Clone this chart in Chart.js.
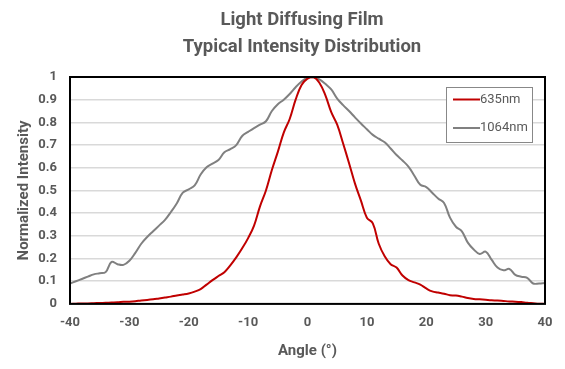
<!DOCTYPE html>
<html>
<head>
<meta charset="utf-8">
<script src="https://cdn.jsdelivr.net/npm/chart.js@4/dist/chart.umd.min.js"></script>
<style>
  html, body { margin: 0; padding: 0; background: #ffffff; }
  #wrap { width: 565px; height: 369px; }
</style>
</head>
<body>
<div id="wrap"><canvas id="c" width="565" height="369"></canvas></div>
<script>
// ---- Data ----
const angles = [
  -40,-39,-38,-37,-36,-35,-34,-33,-32,-31,-30,-29,-28,-27,-26,-25,-24,-23,-22,-21,
  -20,-19,-18,-17,-16,-15,-14,-13,-12,-11,-10,-9,-8,-7,-6,-5,-4,-3,-2,-1,
  0,1,2,3,4,5,6,7,8,9,10,11,12,13,14,15,16,17,18,19,
  20,21,22,23,24,25,26,27,28,29,30,31,32,33,34,35,36,37,38,39,40
];
const intensity635 = [
  0,0.001,0.002,0.002,0.003,0.004,0.005,0.006,0.007,0.009,0.01,0.012,0.015,0.017,0.02,0.024,0.028,0.032,0.037,0.041,
  0.046,0.054,0.065,0.085,0.105,0.123,0.14,0.17,0.205,0.245,0.29,0.345,0.43,0.5,0.59,0.67,0.755,0.815,0.9,0.965,
  0.993,1.0,0.975,0.92,0.845,0.79,0.707,0.62,0.53,0.455,0.38,0.355,0.265,0.21,0.175,0.16,0.125,0.105,0.095,0.085,
  0.068,0.055,0.05,0.045,0.038,0.037,0.032,0.026,0.022,0.02,0.018,0.016,0.015,0.013,0.011,0.01,0.008,0.005,0.003,0.001,0
];
const intensity1064 = [
  0.09,0.10,0.11,0.12,0.13,0.135,0.14,0.185,0.175,0.172,0.19,0.225,0.265,0.295,0.32,0.345,0.37,0.405,0.444,0.49,
  0.505,0.522,0.57,0.602,0.618,0.634,0.668,0.682,0.70,0.74,0.758,0.775,0.79,0.805,0.85,0.88,0.90,0.925,0.955,0.98,
  0.998,1.0,0.99,0.97,0.945,0.905,0.876,0.85,0.822,0.795,0.77,0.745,0.728,0.712,0.685,0.656,0.632,0.605,0.565,0.525,
  0.515,0.49,0.465,0.445,0.38,0.34,0.32,0.27,0.24,0.22,0.23,0.195,0.16,0.148,0.154,0.128,0.12,0.115,0.09,0.09,0.092
];
const seriesLabels = ['635nm', '1064nm'];
const titleLines = ['Light Diffusing Film', 'Typical Intensity Distribution'];
const xTitle = 'Angle (°)';
const yTitle = 'Normalized Intensity';

const TEXT = '#595959';
const FONT = 'Roboto';

const toPts = (ys) => angles.map((a, i) => ({ x: a, y: ys[i] }));

// Two-line chart title, centred slightly left of the plot centre as in the reference
const titlePlugin = {
  id: 'topTitle',
  afterDraw(chart) {
    const { ctx } = chart;
    ctx.save();
    ctx.fillStyle = TEXT;
    ctx.font = 'bold 18.5px ' + FONT;
    ctx.textAlign = 'center';
    ctx.textBaseline = 'middle';
    titleLines.forEach((t, i) => ctx.fillText(t, 302, 20 + i * 27));
    ctx.restore();
  }
};

// Frame around the plot area
const framePlugin = {
  id: 'frame',
  afterDatasetsDraw(chart) {
    const { ctx, chartArea: a } = chart;
    ctx.save();
    ctx.strokeStyle = '#000000';
    ctx.lineWidth = 2;
    ctx.strokeRect(a.left, a.top, a.right - a.left, a.bottom - a.top);
    ctx.restore();
  }
};

// Legend box inside the plot area (top right)
const innerLegend = {
  id: 'innerLegend',
  afterDraw(chart) {
    const { ctx, chartArea: a } = chart;
    const boxW = 86, boxH = 55;
    const x0 = a.right - 13 - boxW, y0 = a.top + 10;
    ctx.save();
    ctx.fillStyle = '#ffffff';
    ctx.fillRect(x0, y0, boxW, boxH);
    ctx.strokeStyle = '#888888';
    ctx.lineWidth = 1;
    ctx.strokeRect(x0 + 0.5, y0 + 0.5, boxW, boxH);
    ctx.font = '13px ' + FONT;
    ctx.textBaseline = 'middle';
    chart.data.datasets.forEach((ds, i) => {
      const y = y0 + 12.5 + i * 28.5;
      ctx.strokeStyle = ds.borderColor;
      ctx.lineWidth = 2;
      ctx.beginPath();
      ctx.moveTo(x0 + 7, y);
      ctx.lineTo(x0 + 34, y);
      ctx.stroke();
      ctx.fillStyle = TEXT;
      ctx.fillText(ds.label, x0 + 34, y);
    });
    ctx.restore();
  }
};

new Chart(document.getElementById('c'), {
  type: 'line',
  data: {
    datasets: [
      { label: seriesLabels[0], data: toPts(intensity635), borderColor: '#c00000', borderWidth: 2, pointRadius: 0, tension: 0.4, fill: false },
      { label: seriesLabels[1], data: toPts(intensity1064), borderColor: '#808080', borderWidth: 2, pointRadius: 0, tension: 0.4, fill: false }
    ]
  },
  options: {
    responsive: false,
    animation: false,
    layout: { padding: { left: 12, right: 20, top: 77, bottom: 9 } },
    plugins: {
      legend: { display: false },
      tooltip: { enabled: false },
      title: { display: false }
    },
    scales: {
      x: {
        type: 'linear',
        min: -40, max: 40,
        grid: { display: false, drawTicks: false },
        border: { display: false },
        ticks: { stepSize: 10, color: TEXT, font: { family: FONT, size: 13, weight: 'bold' }, padding: 11 },
        title: { display: true, text: xTitle, color: TEXT, font: { family: FONT, size: 15, weight: 'bold' }, padding: { top: 0.5, bottom: 0 } }
      },
      y: {
        min: 0, max: 1,
        grid: { color: '#d9d9d9', lineWidth: 1.5, drawTicks: false },
        border: { display: false },
        afterFit: (scale) => { scale.width = 58; },
        ticks: {
          stepSize: 0.1, color: TEXT, font: { family: FONT, size: 13, weight: 'bold' }, padding: 13,
          callback: (v) => String(Math.round(v * 10) / 10)
        },
        title: { display: true, text: yTitle, color: TEXT, font: { family: FONT, size: 15, weight: 'bold' }, padding: { top: 3, bottom: 6 } }
      }
    }
  },
  plugins: [framePlugin, innerLegend, titlePlugin]
});
</script>
</body>
</html>
